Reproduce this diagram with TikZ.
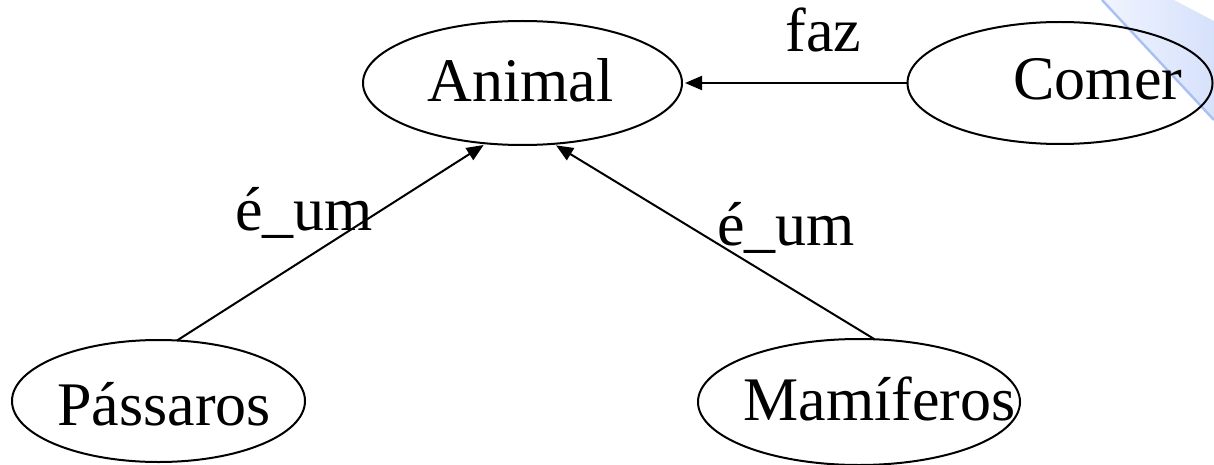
\documentclass[tikz,border=0pt]{standalone}
\usepackage{fontspec}
\setmainfont{Liberation Serif}
\usetikzlibrary{arrows.meta,shapes.geometric}
\definecolor{bandlight}{HTML}{F0F4FE}
\definecolor{banddark}{HTML}{D6E1FB}
\definecolor{bandline}{HTML}{A8C0F4}
\begin{document}
\begin{tikzpicture}[x=0.5pt,y=-0.5pt,
  concept/.style={ellipse,draw,line width=1pt,inner sep=0pt,outer sep=0pt},
  word/.style={anchor=base west,inner sep=0pt,font=\fontsize{31pt}{36pt}\selectfont},
  rel/.style={line width=1pt,shorten >=1.5pt,-{Triangle[length=8.5pt,width=7pt]}}]
\useasboundingbox (0,0) rectangle (1214,465);

% slide corner decoration
\shade[left color=bandlight,right color=banddark]
  (1102,0) -- (1174,0) -- (1214,21) -- (1214,120) -- cycle;
\draw[bandline,line width=1.2pt] (1102,0) -- (1214,120);

% concepts
\node[concept,minimum width=159.5pt,minimum height=62pt] (animal) at (522.5,83) {};
\node[concept,minimum width=152.5pt,minimum height=61pt] (comer) at (1060,83) {};
\node[concept,minimum width=146.5pt,minimum height=61pt] (passaros) at (158.5,401) {};
\node[concept,minimum width=161pt,minimum height=63pt] (mamiferos) at (859,402) {};

% texts
\node[word] (tanimal) at (427,102) {Animal};
\node[word] (tcomer) at (1013,100) {Comer};
\node[word] (tpassaros) at (57,425) {Pássaros};
\node[word] (tmamiferos) at (743,420) {Mamíferos};

% relations
\draw[rel] (comer) -- (animal);
\draw[rel] (passaros.73) -- (animal.239);
\draw[rel] (mamiferos.76) -- (animal.297);

% relation labels
\node[word] (lfaz) at (785,52) {faz};
\node[word] (lisa1) at (235,230) {é\_um};
\node[word] (lisa2) at (717,245) {é\_um};
\end{tikzpicture}
\end{document}
